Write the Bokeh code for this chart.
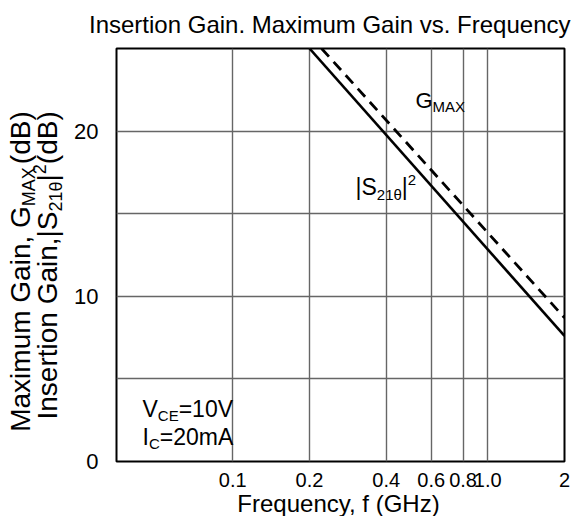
import math
from bokeh.plotting import figure
from bokeh.layouts import column, row
from bokeh.models import Range1d, FixedTicker, CustomJSTickFormatter, Label
from bokeh.embed import file_html
from bokeh.resources import INLINE

# ---- data ----
freq_s21 = [0.2, 2.0]          # GHz
gain_s21 = [25.0, 7.6]         # dB  |S21e|^2
freq_gmax = [0.223, 2.0]       # GHz
gain_gmax = [25.0, 8.7]        # dB  GMAX
x_ticks = [0.1, 0.2, 0.4, 0.6, 0.8, 1.0, 2.0]
x_tick_labels = ["0.1", "0.2", "0.4", "0.6", "0.8", "1.0", "2"]
x_grid = [0.1, 0.2, 0.4, 0.6, 0.8, 1.0]
y_ticks = [0, 10, 20]
y_grid = [5, 10, 15, 20]

FONT = "Liberation Sans"
W, H = 571, 516
TITLE_H = 40
YLAB_W = 66
MAIN_W = W - YLAB_W
MB_L, MB_R, MB_T, MB_B = 50, 7, 8, 30
FRAME_H = 413
MAIN_H = MB_T + FRAME_H + MB_B
XLAB_H = H - TITLE_H - MAIN_H

FRAME_LEFT = YLAB_W + MB_L               # canvas x of plot frame left
FRAME_BOTTOM = TITLE_H + MB_T + FRAME_H  # canvas y of plot frame bottom
BASE = 0.35   # observed offset of label anchor from the alphabetic baseline (em)
ROT_SHIFT = 0.85  # observed shift along rotated text direction (em)

# Arial / Liberation Sans advance widths (1/1000 em)
CW = {' ': 278, ',': 278, '.': 278, '(': 333, ')': 333, '|': 260, '=': 584,
      'A': 667, 'B': 667, 'C': 722, 'E': 667, 'G': 778, 'I': 278, 'M': 833,
      'S': 667, 'V': 667, 'X': 667, 'F': 611, 'H': 722,
      'a': 556, 'd': 556, 'e': 556, 'i': 222, 'm': 833, 'n': 556, 'o': 556,
      'r': 333, 's': 500, 't': 278, 'u': 556, 'x': 500, 'f': 278, 'q': 556,
      'y': 500, 'z': 500, 'c': 500, '\u03b8': 556}
for d in "0123456789":
    CW[d] = 556


def tw(s, size):
    return sum(CW.get(c, 556) for c in s) * size / 1000.0


def run_len(pieces):
    return sum(tw(t, s) + g for t, s, sh, g in pieces)


def label(fig, text, x, y, size, align="left", angle=0.0):
    fig.add_layout(Label(x=x, y=y, x_units="screen", y_units="screen",
                         text=text, text_font=FONT, text_font_size=f"{size}px",
                         text_color="black", angle=angle,
                         text_align=align, text_baseline="alphabetic"))


def add_run(fig, pieces, x0, y0, angle=0.0):
    pos = 0.0
    for text, size, shift, gap in pieces:
        pos += gap
        if angle == 0:
            lx, ly = x0 + pos, y0 - shift + BASE * size
        else:
            lx, ly = x0 + shift - BASE * size, y0 + pos
        label(fig, text, lx, ly, size, angle=angle)
        pos += tw(text, size)


def blank_fig(w, h):
    f = figure(width=w, height=h, x_range=Range1d(0, 1), y_range=Range1d(0, 1),
               x_axis_location=None, y_axis_location=None, title=None,
               output_backend="svg", toolbar_location=None, min_border=0)
    f.grid.visible = False
    f.outline_line_color = None
    f.background_fill_color = "white"
    f.border_fill_color = "white"
    return f


# ---------------- main plot ----------------
p = figure(width=MAIN_W, height=MAIN_H, x_axis_type="log", title=None,
           x_range=Range1d(0.035, 2.0), y_range=Range1d(0, 25),
           output_backend="svg", toolbar_location=None,
           min_border_left=MB_L, min_border_right=MB_R,
           min_border_top=MB_T, min_border_bottom=MB_B)
p.background_fill_color = "white"
p.border_fill_color = "white"
p.outline_line_color = "black"
p.outline_line_width = 2

p.xgrid.ticker = FixedTicker(ticks=x_grid)
p.ygrid.ticker = FixedTicker(ticks=y_grid)
for g in (p.xgrid, p.ygrid):
    g.grid_line_color = "#666666"
    g.grid_line_width = 1.4

p.xaxis.ticker = FixedTicker(ticks=x_ticks)
p.xaxis.formatter = CustomJSTickFormatter(
    args=dict(tvals=x_ticks, tlabels=x_tick_labels),
    code="""
    for (let i = 0; i < tvals.length; i++) {
        if (Math.abs(tvals[i] - tick) < 1e-9) return tlabels[i];
    }
    return '';
    """)
p.yaxis.ticker = FixedTicker(ticks=y_ticks)
for ax in (p.xaxis, p.yaxis):
    ax.axis_line_color = None
    ax.major_tick_line_color = None
    ax.minor_tick_line_color = None
    ax.major_label_text_font = FONT
    ax.major_label_text_color = "black"
p.xaxis.major_label_text_font_size = "20px"
p.xaxis.major_label_standoff = 5
p.yaxis.major_label_text_font_size = "22px"
p.yaxis.major_label_standoff = 12

p.line(freq_s21, gain_s21, line_color="black", line_width=2.6)
p.line(freq_gmax, gain_gmax, line_color="black", line_width=2.8, line_dash="11 7")


def sx(cx):
    return cx - FRAME_LEFT


def sy(cy):
    return FRAME_BOTTOM - cy


# curve labels
add_run(p, [("G", 22, 0, 0), ("MAX", 15, 3, 0)], sx(415), sy(108))
add_run(p, [("|S", 23, 0, 0), ("21\u03b8", 15, 4, 0), ("|", 23, 0, 0), ("2", 15, -10, 0)],
        sx(355), sy(195))
# bias conditions
add_run(p, [("V", 23, 0, 0), ("CE", 15, 3, 0), ("=10V", 23, 0, 0)], sx(142), sy(417))
add_run(p, [("I", 23, 0, 0), ("C", 15, 3, 0), ("=20mA", 23, 0, 0)], sx(142), sy(445))

# ---------------- title strip ----------------
t_fig = blank_fig(W, TITLE_H)
label(t_fig, "Insertion Gain. Maximum Gain vs. Frequency",
      W - 1, TITLE_H - 32 + BASE * 24, 24, align="right")

# ---------------- y label strip ----------------
y_fig = blank_fig(YLAB_W, MAIN_H)
Y_BOTTOM = TITLE_H + MAIN_H
YS = 28
outer = [("Maximum Gain, G", YS, 0, 0), ("MAX", 18, 5, 0), ("(dB)", YS, 0, 3)]
inner = [("Insertion Gain,", YS, 0, 0), ("|S", YS, 0, 0), ("21\u03b8", 18, 5, 0),
         ("|", YS, 0, 0), ("2", 18, -12, 0), ("(dB)", YS, 0, 0)]
L1 = run_len(outer)
L2 = run_len(inner)
TOP = 117  # both rotated lines end here (canvas y)
add_run(y_fig, outer, 30, Y_BOTTOM - (TOP + L1) - ROT_SHIFT * YS, angle=math.pi / 2)
add_run(y_fig, inner, 57, Y_BOTTOM - (TOP + L2) - ROT_SHIFT * YS, angle=math.pi / 2)

# ---------------- x label strip ----------------
x_fig = blank_fig(W, XLAB_H)
label(x_fig, "Frequency, f (GHz)", 338, H - 511 + BASE * 24, 24, align="center")

layout = column(t_fig, row(y_fig, p), x_fig)
open("out.html", "w").write(file_html(layout, INLINE))
